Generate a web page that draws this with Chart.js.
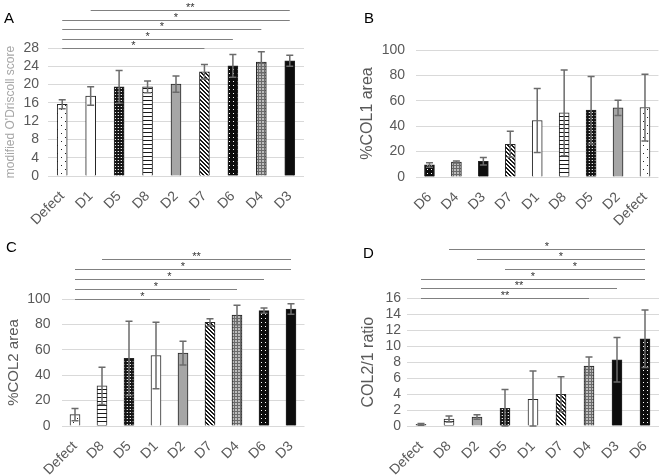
<!DOCTYPE html>
<html><head><meta charset="utf-8">
<script src="https://cdn.jsdelivr.net/npm/chart.js@4.4.1/dist/chart.umd.min.js"></script>
<style>
html,body{margin:0;padding:0;background:#fff;}
#wrap{position:relative;width:661px;height:475px;overflow:hidden;font-family:"Liberation Sans",Arial,sans-serif;background:#fff;}
.pn{position:absolute;}
.pn canvas{display:block;}
.lbl{position:absolute;font-size:15px;line-height:17px;color:#000;}
</style></head><body>
<div id="wrap">
 <div class="pn" style="left:0;top:0"><canvas id="cA" width="330" height="237"></canvas></div>
 <div class="pn" style="left:330px;top:0"><canvas id="cB" width="331" height="237"></canvas></div>
 <div class="pn" style="left:0;top:237px"><canvas id="cC" width="330" height="238"></canvas></div>
 <div class="pn" style="left:330px;top:237px"><canvas id="cD" width="331" height="238"></canvas></div>
 <div class="lbl" style="left:4px;top:9px">A</div>
 <div class="lbl" style="left:364px;top:9px">B</div>
 <div class="lbl" style="left:6px;top:238px">C</div>
 <div class="lbl" style="left:363px;top:244px">D</div>
</div>
<script>
// ---- Panel A: modified O'Driscoll score ----
const catsA = ['Defect','D1','D5','D8','D2','D7','D6','D4','D3'];
const meanA = [15.7,17.5,19.5,19.5,20.1,22.8,24.1,24.9,25.2];
const sdA   = [1.0,2.0,3.6,1.3,1.8,1.6,2.5,2.3,1.2];
const sigA  = [['Defect','D7','*'],['Defect','D6','*'],['Defect','D4','*'],['Defect','D3','*'],['D1','D3','**']];

// ---- Panel B: %COL1 area ----
const catsB = ['D6','D4','D3','D7','D1','D8','D5','D2','Defect'];
const meanB = [9.5,11.8,12.4,25.8,44.5,50.5,52.6,54.5,54.7];
const sdB   = [1.8,0.8,3.0,10.2,25.2,33.7,26.6,6.0,26.3];
const sigB  = [];

// ---- Panel C: %COL2 area ----
const catsC = ['Defect','D8','D5','D1','D2','D7','D4','D6','D3'];
const meanC = [8.9,31.6,53.2,55.5,57.4,81.6,87.4,90.8,92.1];
const sdC   = [4.8,14.7,29.2,26.1,9.4,2.9,7.6,2.1,4.2];
const sigC  = [['Defect','D7','*'],['Defect','D4','*'],['Defect','D6','*'],['Defect','D3','*'],['D8','D3','**']];

// ---- Panel D: COL2/1 ratio ----
const catsD = ['Defect','D8','D2','D5','D1','D7','D4','D3','D6'];
const meanD = [0.2,0.88,1.13,2.22,3.35,3.98,7.5,8.3,10.93];
const sdD   = [0.1,0.38,0.29,2.35,3.55,2.18,1.13,2.8,3.6];
const sigD  = [['Defect','D4','**'],['Defect','D3','**'],['Defect','D6','*'],['D5','D6','*'],['D2','D6','*'],['D8','D6','*']];

const F = '"Liberation Sans", Arial, sans-serif';

function pat(w,h,bg,fn){const c=document.createElement('canvas');c.width=w;c.height=h;const g=c.getContext('2d');g.fillStyle=bg;g.fillRect(0,0,w,h);fn(g);return g.createPattern(c,'repeat');}
const FILL = {
 Defect: pat(8,8,'#ffffff',g=>{g.fillStyle='#222';g.fillRect(1,1,1,1);g.fillRect(5,5,1,1);}),
 D1: '#ffffff',
 D5: pat(3,3,'#151515',g=>{g.fillStyle='#e6e6e6';g.fillRect(1,1,1,1);g.fillStyle='#555';g.fillRect(0,1,1,1);}),
 D8: pat(4,4,'#ffffff',g=>{g.fillStyle='#1a1a1a';g.fillRect(0,0,4,1);}),
 D2: '#a6a6a6',
 D7: pat(4,4,'#ffffff',g=>{g.fillStyle='#1a1a1a';for(let i=0;i<4;i++){g.fillRect(i,i,1,1);g.fillRect((i+1)%4,i,1,1);}}),
 D6: pat(4,4,'#0d0d0d',g=>{g.fillStyle='#ffffff';g.fillRect(1,1,1,1);}),
 D4: pat(3,3,'#bdbdbd',g=>{g.fillStyle='#6b6b6b';g.fillRect(0,0,3,1);g.fillRect(0,0,1,3);}),
 D3: '#0d0d0d'
};

function errPlugin(sds){return {id:'err', afterDatasetsDraw(chart){
  const ctx=chart.ctx, y=chart.scales.y, meta=chart.getDatasetMeta(0), d=chart.data.datasets[0].data;
  ctx.save(); ctx.strokeStyle='#6b6b6b'; ctx.lineWidth=1.5;
  meta.data.forEach((bar,i)=>{
    const yt=y.getPixelForValue(d[i]+sds[i]), yb=y.getPixelForValue(Math.max(0,d[i]-sds[i]));
    const x=bar.x, hw=3.5;
    ctx.beginPath(); ctx.moveTo(x,yt); ctx.lineTo(x,yb);
    ctx.moveTo(x-hw,yt); ctx.lineTo(x+hw,yt); ctx.moveTo(x-hw,yb); ctx.lineTo(x+hw,yb); ctx.stroke();
  });
  ctx.restore();}};}

function sigPlugin(sig,cats,gap){return {id:'sig', afterDraw(chart){
  const ctx=chart.ctx, xs=chart.scales.x, top=chart.chartArea.top;
  ctx.save(); ctx.strokeStyle='#808080'; ctx.lineWidth=1; ctx.fillStyle='#333';
  ctx.font='11px '+F; ctx.textAlign='center'; ctx.textBaseline='alphabetic';
  sig.forEach((s,k)=>{
    const x1=xs.getPixelForValue(cats.indexOf(s[0])), x2=xs.getPixelForValue(cats.indexOf(s[1]));
    const yy=Math.round(top-k*gap)+0.5;
    ctx.beginPath(); ctx.moveTo(x1,yy); ctx.lineTo(x2,yy); ctx.stroke();
    ctx.fillText(s[2],(x1+x2)/2,yy+0.5);
  });
  ctx.restore();}};}

function build(id,cats,means,sds,sig,o){
  return new Chart(document.getElementById(id),{
    type:'bar',
    data:{labels:cats,datasets:[{data:means,backgroundColor:cats.map(c=>FILL[c]),borderColor:'#262626',borderWidth:1,barThickness:10}]},
    options:{
      responsive:false,animation:false,devicePixelRatio:1,
      layout:{padding:{top:o.area.t,right:o.W-o.area.r,left:0,bottom:0}},
      plugins:{legend:{display:false},tooltip:{enabled:false}},
      scales:{
        x:{grid:{display:false},border:{display:false},
           ticks:{color:'#595959',font:{size:14,family:F},minRotation:45,maxRotation:45,autoSkip:false,padding:o.xPad},
           afterFit(s){s.height=o.H-o.area.b;}},
        y:{min:0,max:o.max,
           ticks:{stepSize:o.step,autoSkip:false,color:'#595959',font:{size:o.tickSize,family:F},padding:o.tickPad},
           grid:{color:'#d9d9d9',drawTicks:false},border:{display:false},
           title:{display:true,text:o.title,color:o.titleColor,font:{size:o.titleSize,family:F},padding:{top:o.titlePad,bottom:0}},
           afterFit(s){s.width=o.area.l;}}
      }
    },
    plugins:[errPlugin(sds),sigPlugin(sig,cats,o.gap)]
  });
}

build('cA',catsA,meanA,sdA,sigA,{W:330,H:237,area:{l:48,r:304,t:48,b:176},max:28,step:4,tickSize:14,tickPad:9,xPad:4,
  title:"modified O'Driscoll score",titleColor:'#a6a6a6',titleSize:12,titlePad:3,gap:9.5});
build('cB',catsB,meanB,sdB,sigB,{W:331,H:237,area:{l:86,r:328.5,t:50,b:177},max:100,step:20,tickSize:14,tickPad:11,xPad:4,
  title:'%COL1 area',titleColor:'#595959',titleSize:16,titlePad:28,gap:10});
build('cC',catsC,meanC,sdC,sigC,{W:330,H:238,area:{l:61.5,r:304.5,t:62,b:189},max:100,step:20,tickSize:14,tickPad:11,xPad:4,
  title:'%COL2 area',titleColor:'#595959',titleSize:15,titlePad:5,gap:10});
build('cD',catsD,meanD,sdD,sigD,{W:331,H:238,area:{l:77,r:329,t:61.3,b:189},max:16,step:2,tickSize:14,tickPad:6,xPad:4,
  title:'COL2/1 ratio',titleColor:'#595959',titleSize:16,titlePad:29,gap:9.9});
</script>
</body></html>
